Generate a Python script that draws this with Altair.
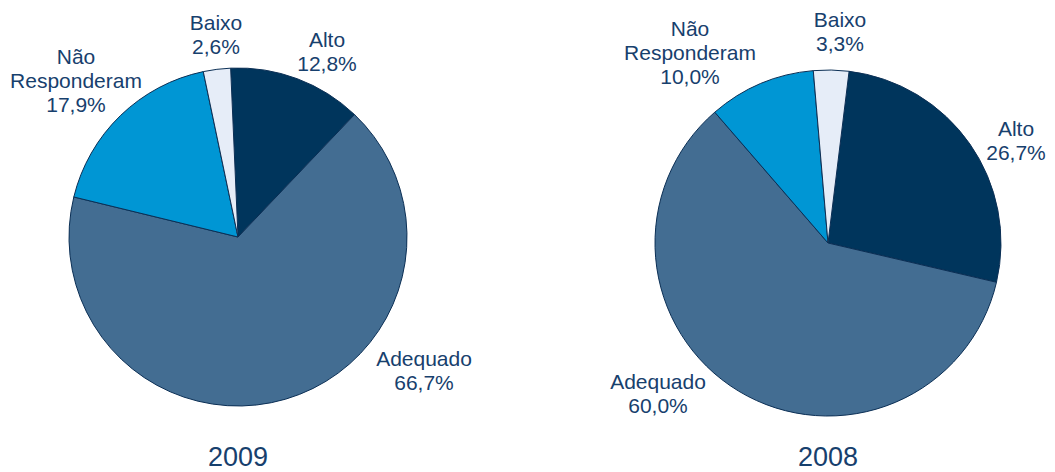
import altair as alt
import pandas as pd
import math

categories = ["Alto", "Adequado", "Não Responderam", "Baixo"]
label_names = ["Alto", "Adequado", "Não\nResponderam", "Baixo"]
values_2009 = [12.8, 66.7, 17.9, 2.6]
values_2008 = [26.7, 60.0, 10.0, 3.3]
years = ["2009", "2008"]

colors = ["#00355c", "#436d92", "#0096d4", "#e6edf8"]
text_color = "#17406d"
font = "Liberation Sans"

# layout (pixel positions inside the chart; page = chart + 8)
pie_layout = {"2009": {"cx": 230, "cy": 229, "r": 169, "start_deg": -2.5},
              "2008": {"cx": 820, "cy": 235, "r": 173, "start_deg": 7}}
label_layout = {
    "2009": [(319, 33), (416, 352), (68, 50), (208, 16)],
    "2008": [(1008, 122), (650, 375), (682, 22), (832, 13)],
}
title_y = 450


def fmt(v):
    return f"{v:.1f}".replace(".", ",") + "%"


layers = []
for year, vals in zip(years, [values_2009, values_2008]):
    lay = pie_layout[year]
    start = math.radians(lay["start_deg"])
    df = pd.DataFrame({"cat": categories, "val": vals, "ord": list(range(len(vals)))})
    pie = alt.Chart(df).mark_arc(radius=lay["r"], stroke="#0b2f55", strokeWidth=1).encode(
        theta=alt.Theta("val:Q", stack=True,
                        scale=alt.Scale(range=[start, start + 2 * math.pi])),
        color=alt.Color("cat:N", scale=alt.Scale(domain=categories, range=colors), legend=None),
        order=alt.Order("ord:Q"),
        x=alt.value(lay["cx"]),
        y=alt.value(lay["cy"]),
    )
    ldf = pd.DataFrame({
        "label": [f"{n}\n{fmt(v)}" for n, v in zip(label_names, vals)],
        "px": [p[0] for p in label_layout[year]],
        "py": [p[1] for p in label_layout[year]],
    })
    labels = alt.Chart(ldf).mark_text(
        font=font, fontSize=21, lineHeight=24, color=text_color,
        align="center", baseline="middle", lineBreak="\n"
    ).encode(
        x=alt.X("px:Q", scale=None),
        y=alt.Y("py:Q", scale=None),
        text="label:N",
    )
    tdf = pd.DataFrame({"t": [year], "px": [lay["cx"]], "py": [title_y]})
    title = alt.Chart(tdf).mark_text(
        font=font, fontSize=27, color=text_color, align="center", baseline="middle"
    ).encode(
        x=alt.X("px:Q", scale=None),
        y=alt.Y("py:Q", scale=None),
        text="t:N",
    )
    layers += [pie, labels, title]

chart = alt.layer(*layers).properties(
    width=1039, height=464, padding=0, autosize=alt.AutoSizeParams(type="none")
).resolve_scale(theta="independent").configure_view(stroke=None)

chart.save("out.html", embed_options={"renderer": "svg", "actions": False})
